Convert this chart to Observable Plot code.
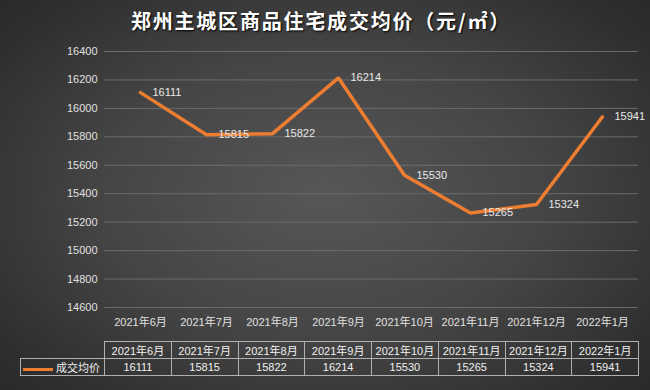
<!DOCTYPE html>
<html><head><meta charset="utf-8">
<script src="https://cdn.jsdelivr.net/npm/d3@7"></script>
<script src="https://cdn.jsdelivr.net/npm/@observablehq/plot@0.6"></script>
<style>
html,body{margin:0;padding:0;}
#wrap{position:relative;width:650px;height:390px;overflow:hidden;
 background:radial-gradient(ellipse 75% 80% at 50% 50%, #575757 0%, #454545 45%, #2f2f2f 80%, #262626 100%);
 font-family:"Liberation Sans","Noto Sans CJK SC",sans-serif;}
#title{position:absolute;left:0;width:642px;top:6px;text-align:center;color:#fff;
 font-family:"Noto Sans CJK SC",sans-serif;font-weight:bold;font-size:20px;letter-spacing:1.8px;
 text-shadow:1px 1px 2px #000;}
#chart{position:absolute;left:0;top:0;}
#tbl{position:absolute;left:20px;top:341px;border-collapse:collapse;table-layout:fixed;color:#f0f0f0;font-size:11px;}
#tbl td{border:1px solid #b0b0b0;height:16px;padding:0;text-align:center;white-space:nowrap;}
#tbl td.empty{border:none;}
</style></head>
<body><div id="wrap"><div id="title">郑州主城区商品住宅成交均价（元/㎡）</div><div id="chart"></div><table id="tbl"></table></div>
<script>
const months = ["2021年6月","2021年7月","2021年8月","2021年9月","2021年10月","2021年11月","2021年12月","2022年1月"];
const prices = [16111,15815,15822,16214,15530,15265,15324,15941];
const seriesName = "成交均价";
const yDomain = [14600,16400];

const data = months.map((m,i)=>({month:m, price:prices[i]}));
const yTicks = d3.range(yDomain[0], yDomain[1]+1, 200);

const plot = Plot.plot({
  width:650, height:340,
  marginTop:51, marginBottom:33, marginLeft:104, marginRight:12,
  style:{background:"transparent", color:"#e0e0e0", fontSize:"11px", fontFamily:"Liberation Sans, Noto Sans CJK SC, sans-serif"},
  x:{type:"point", domain:months, padding:0.5, label:null, tickSize:0, tickPadding:11},
  y:{domain:yDomain, ticks:10, tickFormat:"d", label:null, tickSize:0, tickPadding:7},
  marks:[
    Plot.ruleY(yTicks, {stroke:"#6b6b6b", strokeWidth:1}),
    Plot.line(data, {x:"month", y:"price", stroke:"#ED7D31", strokeWidth:3.5, strokeLinejoin:"miter"}),
    Plot.text(data, {x:"month", y:"price", text:d=>String(d.price), dx:12, textAnchor:"start", fill:"#e8e8e8", fontSize:11})
  ]
});
document.getElementById("chart").appendChild(plot);

// data table aligned with x bands
const tbl = document.getElementById("tbl");
const colW = (650-104-12)/months.length;
let html = `<colgroup><col style="width:84px">${months.map(()=>`<col style="width:${colW}px">`).join("")}</colgroup>`;
html += `<tr><td class="empty"></td>${months.map(m=>`<td>${m}</td>`).join("")}</tr>`;
html += `<tr><td style="text-align:left;padding-left:2px"><span style="display:inline-block;width:30px;height:3px;background:#ED7D31;vertical-align:middle;margin-right:3px"></span>${seriesName}</td>${prices.map(p=>`<td>${p}</td>`).join("")}</tr>`;
tbl.innerHTML = html;
tbl.style.width = (84 + colW*months.length) + "px";
</script></body></html>
